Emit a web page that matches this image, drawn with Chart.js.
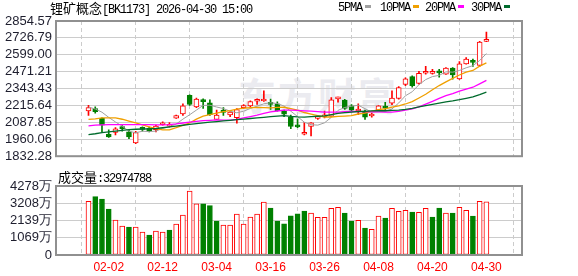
<!DOCTYPE html>
<html>
<head>
<meta charset="utf-8">
<script src="https://cdn.jsdelivr.net/npm/chart.js@4"></script>
<style>
  body { margin: 0; background: #fff; width: 578px; height: 276px; overflow: hidden; position: relative; }
  .txt { position: absolute; font: 12px "Liberation Mono", monospace; letter-spacing: -1.2px; color: #000; white-space: nowrap; line-height: 12px; height: 12px; }
  .cjk { font: 13px/12px "Noto Sans CJK SC"; letter-spacing: 0; }
  .sw { display: inline-block; width: 6px; height: 3px; margin-left: 3px; vertical-align: 3px; }
  #wm { position: absolute; left: 238px; top: 66px; font: bold 38px "Noto Sans CJK SC"; color: #ebebf0; letter-spacing: 2px; }
  #pWrap { position: absolute; left: 0; top: 0; }
  #vWrap { position: absolute; left: 0; top: 168px; }
  #cero { position: absolute; left: 40px; top: 248px; width: 12px; height: 14px; text-align: right; font: 13px/14px "Liberation Sans", sans-serif; color: #1e1e2e; z-index: 10; }
</style>
</head>
<body>
<div id="wm">东方财富</div>
<div id="pWrap"><canvas id="graficoPrecio" width="578" height="168"></canvas></div>
<div id="vWrap"><canvas id="graficoVol" width="578" height="108"></canvas></div>
<div class="txt" style="left:50px;top:2px"><span class="cjk">锂矿概念</span>[BK1173] 2026-04-30 15:00</div>
<div class="txt" id="leyenda" style="top:2px;left:0"></div>
<div class="txt" id="volTexto" style="left:58px;top:171px"></div>
<div id="cero">0</div>
<script>
// trading days shown (MM-DD)
const dates = ["01-28","01-29","01-30","02-02","02-03","02-04","02-05","02-06","02-09","02-10",
  "02-11","02-12","02-13","02-24","02-25","02-26","02-27","03-02","03-03","03-04",
  "03-05","03-06","03-09","03-10","03-11","03-12","03-13","03-16","03-17","03-18",
  "03-19","03-20","03-23","03-24","03-25","03-26","03-27","03-30","03-31","04-01",
  "04-02","04-03","04-07","04-08","04-09","04-10","04-13","04-14","04-15","04-16",
  "04-17","04-20","04-21","04-22","04-23","04-24","04-27","04-28","04-29","04-30"];
const axisDates = ["02-02","02-12","03-04","03-16","03-26","04-08","04-20","04-30"];

const opens = [2174.0,2193.1,2118.8,1998.5,2011.2,2048.0,2016.2,1933.4,2042.4,2044.5,
  2033.2,2070.1,2058.6,2120.2,2152.8,2292.1,2205.1,2258.9,2235.5,2111.0,
  2181.1,2143.6,2124.5,2200.1,2212.2,2247.6,2249.7,2240.5,2228.4,2174.0,
  2127.3,2067.8,1998.5,2056.6,2117.4,2130.4,2134.3,2265.9,2256.8,2212.2,
  2174.0,2174.0,2136.5,2181.1,2205.1,2233.4,2268.8,2374.9,2433.6,2382.0,
  2459.8,2458.4,2476.7,2452.7,2499.4,2417.4,2530.6,2551.8,2518.5,2700.4];
const highs = [2216.4,2205.1,2122.3,2032.5,2048.0,2063.6,2028.2,2021.2,2053.7,2051.6,
  2068.5,2091.9,2086.9,2143.5,2228.4,2295.7,2270.9,2265.9,2258.9,2181.1,
  2200.1,2170.4,2193.1,2223.5,2251.8,2265.9,2327.5,2263.8,2242.6,2181.1,
  2143.5,2115.2,2086.9,2086.9,2136.5,2174.0,2275.9,2280.1,2261.7,2223.5,
  2228.4,2181.1,2157.7,2214.3,2240.5,2327.5,2358.0,2424.4,2440.7,2474.0,
  2511.5,2488.2,2488.2,2502.0,2502.0,2546.8,2577.3,2566.0,2700.4,2771.1];
const lows = [2141.4,2157.7,2016.2,1973.7,1992.9,2021.2,1964.6,1926.3,2021.2,2016.2,
  2016.2,2067.8,2051.6,2118.8,2141.4,2216.4,2200.1,2193.1,2141.4,2108.2,
  2141.4,2130.4,2082.0,2193.1,2205.1,2223.5,2246.1,2186.0,2171.9,2130.4,
  2039.5,2048.0,1992.9,1985.8,2111.0,2122.3,2130.4,2240.5,2186.0,2176.8,
  2145.7,2111.0,2127.3,2178.9,2176.8,2221.4,2263.8,2365.0,2353.6,2377.0,
  2452.7,2452.7,2430.0,2451.3,2414.9,2412.4,2527.7,2511.5,2511.5,2698.9];
const closes = [2200.1,2169.7,2067.8,1977.3,2039.5,2040.9,1978.7,2011.2,2035.3,2025.4,
  2059.6,2084.8,2067.8,2140.0,2212.2,2223.5,2263.8,2244.7,2145.7,2143.6,
  2162.6,2166.2,2183.9,2207.2,2244.7,2251.8,2254.6,2223.5,2176.8,2150.6,
  2056.6,2053.7,2005.6,2084.8,2134.3,2143.6,2258.9,2273.0,2193.1,2181.1,
  2182.5,2127.3,2143.6,2212.2,2195.2,2270.9,2350.9,2417.3,2365.0,2459.8,
  2466.9,2463.4,2462.6,2499.4,2447.6,2530.6,2566.0,2541.9,2695.4,2709.6];

// volume in 万 (10k shares)
const volumes = [3330,3615,3472,2852,2170,1798,1736,1736,1426,1240,
  1488,1426,1550,1922,2480,3968,3180,3180,3057,2108,
  1860,1860,2542,1922,2356,2542,3286,2914,2108,1940,
  2436,2560,2728,2604,2335,2335,2893,2955,2604,2108,
  2150,1674,1591,2418,2294,2893,2707,2769,2666,2645,
  2893,2356,2914,2604,2604,2955,2769,2418,3330,3297.4788];

const ma5 = [2203.7,2189.5,2164.8,2125.9,2091.2,2059.4,2021.1,2009.8,2021.1,2018.3,
  2021.9,2043.1,2054.4,2075.6,2112.4,2145.7,2181.0,2216.4,2217.8,2204.4,
  2192.4,2172.6,2160.5,2172.6,2193.1,2210.8,2228.4,2236.2,2230.6,2211.5,
  2172.6,2132.2,2089.1,2070.7,2067.1,2084.8,2125.9,2178.9,2200.9,2210.1,
  2217.8,2191.7,2165.5,2169.0,2171.8,2189.5,2234.8,2289.3,2319.7,2372.8,
  2411.7,2434.3,2443.5,2470.4,2467.6,2480.3,2500.8,2517.1,2556.0,2608.4];
const ma10 = [2110.3,2115.2,2122.3,2122.3,2122.3,2111.7,2097.6,2083.4,2069.3,2054.4,
  2040.3,2031.8,2031.8,2048.0,2065.7,2083.4,2112.4,2135.8,2146.4,2158.4,
  2169.0,2176.8,2188.8,2195.2,2198.7,2201.6,2200.1,2198.0,2201.6,2202.3,
  2191.7,2180.3,2162.7,2150.6,2139.3,2128.7,2128.7,2133.6,2135.8,2138.6,
  2151.3,2158.4,2171.8,2184.6,2191.0,2203.7,2212.9,2227.0,2244.7,2272.3,
  2300.6,2334.6,2366.4,2394.7,2420.2,2446.4,2467.6,2480.3,2513.6,2538.3];
const ma20 = [2062.2,2067.1,2069.3,2070.7,2070.7,2070.7,2070.7,2070.7,2070.7,2070.7,
  2069.3,2069.3,2070.7,2076.3,2083.4,2090.5,2096.2,2101.1,2103.9,2106.8,
  2104.6,2104.6,2110.3,2121.6,2132.2,2142.8,2156.3,2166.9,2174.0,2180.3,
  2180.3,2178.9,2175.4,2172.6,2169.0,2164.8,2164.8,2166.2,2168.3,2170.4,
  2171.1,2169.7,2167.6,2167.6,2165.5,2166.2,2171.1,2180.3,2190.2,2205.8,
  2226.3,2246.8,2269.5,2290.0,2305.6,2324.7,2340.2,2353.7,2379.1,2405.3];
const ma30 = [1995.0,2002.0,2010.5,2016.2,2021.8,2028.2,2033.2,2036.0,2038.1,2039.5,
  2041.7,2047.3,2053.7,2060.1,2066.4,2072.8,2078.5,2084.8,2089.8,2094.0,
  2099.0,2103.9,2108.2,2112.4,2117.4,2122.3,2126.6,2130.8,2135.1,2138.6,
  2133.6,2130.1,2128.0,2131.5,2134.4,2137.9,2147.1,2156.3,2161.2,2166.2,
  2170.4,2171.8,2174.7,2176.8,2176.1,2178.2,2181.0,2186.7,2193.8,2204.4,
  2214.3,2224.2,2233.4,2243.3,2250.4,2259.6,2270.2,2280.8,2297.8,2316.2];

const priceTickLabels = ["2854.57","2726.79","2599.00","2471.21","2343.43","2215.64","2087.85","1960.06","1832.28"];
const volTicks = [0, 1069.5, 2139, 3208.5, 4278];
const volTickLabels = ["0","1069万","2139万","3208万","4278万"];

const maNames = ["5PMA","10PMA","20PMA","30PMA"];
const maColors = ["#a0a0a0","#f0a000","#ff00ff","#006b2d"];
const maSeries = [ma5, ma10, ma20, ma30];

const ROJO = "#ff0000";
const VERDE = "#008000";
const TEXTO_EJE = "#1e1e2e";

// leyenda y texto de volumen
const leyenda = document.getElementById("leyenda");
const leyX = [338, 380, 425, 471];
leyenda.innerHTML = maNames.map((n, i) =>
  `<span style="position:absolute;left:${leyX[i]}px">${n}<span class="sw" style="background:${maColors[i]}"></span></span>`
).join("");
document.getElementById("volTexto").innerHTML =
  `<span class="cjk">成交量</span>:${Math.round(volumes[volumes.length - 1] * 10000)}`;

const subida = closes.map((c, i) => c >= opens[i]);
const volSube = closes.map((c, i) => i === 0 ? c >= opens[0] : c >= closes[i - 1]);
const tickIdx = axisDates.map(d => dates.indexOf(d));

Chart.defaults.font.family = "Liberation Sans";

const marco = {
  id: "marco",
  afterDraw(chart) {
    const { ctx, chartArea: a } = chart;
    ctx.save();
    ctx.strokeStyle = "#909090";
    ctx.lineWidth = 2;
    ctx.strokeRect(a.left, a.top, a.right - a.left, a.bottom - a.top);
    ctx.restore();
  }
};

function escalaX(conEtiquetas) {
  return {
    type: "linear",
    bounds: "data",
    min: -0.5,
    max: dates.length - 0.04, // small blank strip at the right edge
    afterBuildTicks: s => { s.ticks = tickIdx.map(v => ({ value: v })); },
    afterFit: s => { s.height = conEtiquetas ? 21 : 0; },
    ticks: {
      display: conEtiquetas,
      autoSkip: false,
      maxRotation: 0,
      padding: 5,
      color: ROJO,
      font: { size: 12 },
      callback: v => dates[v]
    },
    grid: { color: "#cccccc", lineWidth: 1, drawTicks: false },
    border: { display: false, dash: [4, 3] }
  };
}

function escalaY(extra, etiqueta) {
  return Object.assign({
    afterFit: s => { s.width = 56; },
    grid: { color: "#cccccc", lineWidth: 1, drawTicks: false },
    border: { display: false },
    ticks: { autoSkip: false, padding: 4, color: TEXTO_EJE, font: { size: 13 }, callback: etiqueta }
  }, extra);
}

const datasetsPrecio = [
  {
    type: "bar",
    data: dates.map((d, i) => ({ x: i, y: [lows[i], highs[i]] })),
    backgroundColor: subida.map(u => u ? ROJO : VERDE),
    barThickness: 1,
    grouped: false,
    order: 2
  },
  {
    type: "bar",
    data: dates.map((d, i) => ({ x: i, y: [Math.min(opens[i], closes[i]), Math.max(opens[i], closes[i])] })),
    backgroundColor: subida.map(u => u ? "#ffffff" : VERDE),
    borderColor: subida.map(u => u ? ROJO : VERDE),
    borderWidth: 1,
    borderSkipped: false,
    barThickness: 5,
    minBarLength: 2,
    grouped: false,
    order: 1
  }
].concat(maSeries.map((serie, k) => ({
  type: "line",
  data: serie.map((v, i) => ({ x: i, y: v })),
  borderColor: maColors[k],
  borderWidth: k === 0 ? 1 : 1.3,
  pointRadius: 0,
  tension: 0,
  order: -k
})));

new Chart(document.getElementById("graficoPrecio"), {
  type: "bar",
  data: { datasets: datasetsPrecio },
  options: {
    responsive: false,
    animation: false,
    layout: { padding: { top: 21, right: 56, bottom: 3, left: 0 } },
    plugins: { legend: { display: false }, tooltip: { enabled: false } },
    scales: {
      x: escalaX(false),
      y: escalaY({
        min: parseFloat(priceTickLabels[priceTickLabels.length - 1]),
        max: parseFloat(priceTickLabels[0]),
        afterBuildTicks: s => { s.ticks = priceTickLabels.map(t => ({ value: parseFloat(t) })); }
      }, v => v.toFixed(2))
    }
  },
  plugins: [marco]
});

new Chart(document.getElementById("graficoVol"), {
  type: "bar",
  data: {
    datasets: [{
      data: volumes.map((v, i) => ({ x: i, y: v })),
      backgroundColor: volSube.map(u => u ? "#ffffff" : VERDE),
      borderColor: volSube.map(u => u ? ROJO : VERDE),
      borderWidth: 1,
      borderSkipped: false,
      barThickness: 5
    }]
  },
  options: {
    responsive: false,
    animation: false,
    layout: { padding: { top: 18, right: 56, bottom: 0, left: 0 } },
    plugins: { legend: { display: false }, tooltip: { enabled: false } },
    scales: {
      x: escalaX(true),
      y: escalaY({
        min: 0,
        max: volTicks[volTicks.length - 1],
        afterBuildTicks: s => { s.ticks = volTicks.map(v => ({ value: v })); }
      }, v => {
        const k = volTicks.indexOf(v);
        return k > 0 ? volTickLabels[k] : "";
      })
    }
  },
  plugins: [marco]
});
</script>
</body>
</html>
